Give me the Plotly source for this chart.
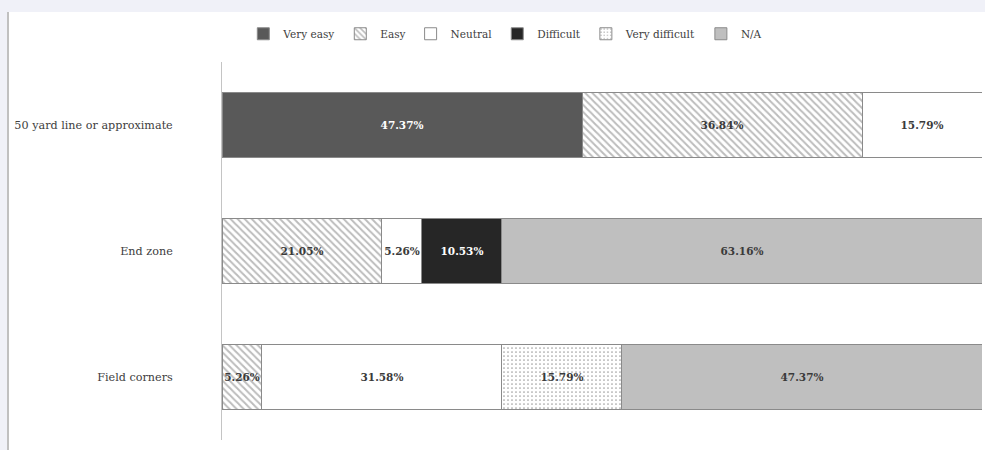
import plotly.graph_objects as go

categories = ["50 yard line or approximate", "End zone", "Field corners"]
series_names = ["Very easy", "Easy", "Neutral", "Difficult", "Very difficult", "N/A"]
very_easy = [47.37, None, None]
easy = [36.84, 21.05, 5.26]
neutral = [15.79, 5.26, 31.58]
difficult = [None, 10.53, None]
very_difficult = [None, None, 15.79]
na = [None, 63.16, 47.37]

series_values = [very_easy, easy, neutral, difficult, very_difficult, na]

styles = [
    dict(color="#595959", pattern=dict(shape=""), text="#ffffff"),
    dict(color="#ffffff", pattern=dict(shape="\\", fgcolor="#7a7a7a", size=5, solidity=0.4), text="#3a3a3a"),
    dict(color="#ffffff", pattern=dict(shape=""), text="#3a3a3a"),
    dict(color="#262626", pattern=dict(shape=""), text="#ffffff"),
    dict(color="#ffffff", pattern=dict(shape=".", fgcolor="#444444", size=4, solidity=0.15), text="#3a3a3a"),
    dict(color="#bfbfbf", pattern=dict(shape=""), text="#3a3a3a"),
]

FONT = "DejaVu Serif"

fig = go.Figure()
for name, vals, st in zip(series_names, series_values, styles):
    fig.add_trace(go.Bar(
        y=categories, x=vals, name=name, orientation="h",
        marker=dict(color=st["color"], pattern=st["pattern"],
                    line=dict(color="#8a8a8a", width=1)),
        texttemplate="<b>%{x:.2f}%</b>", textposition="inside",
        insidetextanchor="middle", textangle=0, constraintext="none",
        textfont=dict(family=FONT, size=10.5, color=st["text"]),
        cliponaxis=False,
    ))

W, H = 985, 450
ml, mr, mt, mb = 222, 3, 62, 10
pw, ph = W - ml - mr, H - mt - mb

def px_x(p):
    return (p - ml) / pw

def px_y(p):
    return 1 - (p - mt) / ph

shapes = [
    dict(type="rect", xref="paper", yref="paper", x0=px_x(0), x1=px_x(W), y0=px_y(12), y1=px_y(0),
         fillcolor="#f0f1f8", line=dict(width=0), layer="below"),
    dict(type="rect", xref="paper", yref="paper", x0=px_x(0), x1=px_x(7), y0=px_y(H), y1=px_y(12),
         fillcolor="#f0f1f8", line=dict(width=0), layer="below"),
    dict(type="line", xref="paper", yref="paper", x0=px_x(8), x1=px_x(8), y0=px_y(H), y1=px_y(12),
         line=dict(color="#c0c0c0", width=2), layer="below"),
]

fig.update_layout(
    width=W, height=H,
    barmode="stack", bargap=0.48,
    paper_bgcolor="#ffffff", plot_bgcolor="#ffffff",
    margin=dict(l=ml, r=mr, t=mt, b=mb),
    font=dict(family=FONT, size=11, color="#404040"),
    showlegend=True,
    legend=dict(orientation="h", xref="container", yref="container",
                x=0.513, xanchor="center", y=0.925, yanchor="middle",
                traceorder="normal",
                font=dict(family=FONT, size=10.5, color="#404040"),
                itemwidth=30, tracegroupgap=0, bgcolor="rgba(0,0,0,0)"),
    xaxis=dict(range=[0, 100], visible=False, fixedrange=True),
    yaxis=dict(autorange="reversed", showline=True, linecolor="#c4c4c4", linewidth=1,
               showgrid=False, zeroline=False, ticks="", ticklabelstandoff=46,
               tickfont=dict(family=FONT, size=11.2, color="#404040")),
    shapes=shapes,
    uniformtext=dict(mode="show", minsize=10.5),
)

fig.write_html("out.html", config={"displayModeBar": False},
               post_script="document.body.style.margin='0';")
